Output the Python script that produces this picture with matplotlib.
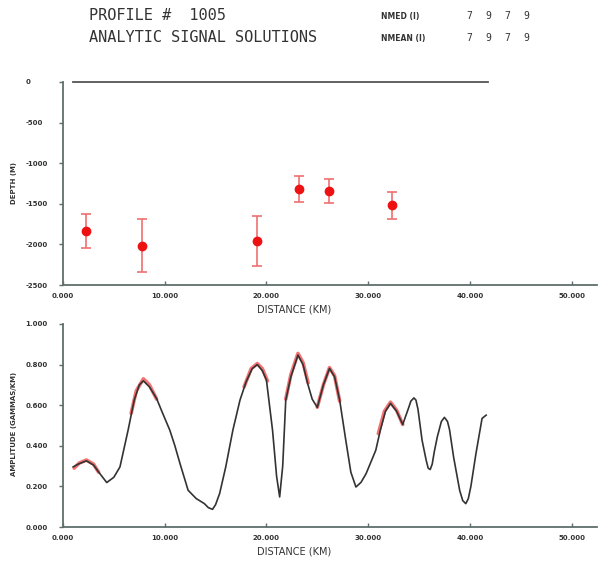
import numpy as np
import matplotlib
matplotlib.use('Agg')
import matplotlib.pyplot as plt
import matplotlib.ticker as ticker

# depth solutions (km, m, +/- m)
sol_dist = [2.25, 7.8, 19.1, 23.2, 26.2, 32.3]
sol_depth = [-1835, -2015, -1958, -1313, -1342, -1519]
sol_err = [213, 330, 305, 160, 142, 170]

# ground / profile line
ground_x = [1.0, 41.8]
ground_y = [0, 0]

# observed analytic signal amplitude
amp_x = [1.0, 1.5, 2.3, 3.0, 3.5, 4.3, 5.0, 5.6, 6.4, 7.0, 7.5, 7.9, 8.5, 9.2,
         9.8, 10.5, 11.0, 11.5, 12.3, 13.1, 13.9, 14.3, 14.7, 15.0, 15.4, 16.0,
         16.7, 17.4, 18.0, 18.6, 19.1, 19.6, 20.0, 20.6, 21.0, 21.3, 21.6, 21.9,
         22.4, 23.1, 23.6, 24.05, 24.5, 25.0, 25.6, 26.2, 26.7, 27.2, 27.8, 28.3,
         28.8, 29.3, 29.8, 30.75, 31.2, 31.7, 32.2, 32.8, 33.4, 34.0, 34.2, 34.5,
         34.7, 34.9, 35.3, 35.7, 35.9, 36.1, 36.3, 36.5, 36.8, 37.2, 37.5, 37.8,
         38.0, 38.4, 39.0, 39.3, 39.6, 39.85, 40.1, 40.6, 41.2, 41.6]
amp_y = [0.296, 0.31, 0.326, 0.305, 0.271, 0.219, 0.245, 0.296, 0.477, 0.625, 0.70, 0.72, 0.69, 0.633,
         0.56, 0.477, 0.40, 0.313, 0.181, 0.14, 0.115, 0.095, 0.087, 0.11, 0.165, 0.296,
         0.477, 0.625, 0.715, 0.78, 0.80, 0.77, 0.724, 0.477, 0.25, 0.148, 0.30, 0.625,
         0.74, 0.847, 0.80, 0.707, 0.63, 0.589, 0.70, 0.781, 0.74, 0.625, 0.428, 0.27,
         0.197, 0.22, 0.263, 0.378, 0.477, 0.57, 0.609, 0.57, 0.505, 0.59, 0.62, 0.636,
         0.625, 0.58, 0.428, 0.33, 0.29, 0.283, 0.31, 0.37, 0.444, 0.52, 0.54, 0.52,
         0.48, 0.345, 0.18, 0.13, 0.115, 0.14, 0.20, 0.362, 0.535, 0.551]

# fitted signal segments (red)
fit1_x = [1.1, 1.6, 2.3, 3.0, 3.5]
fit1_y = [0.29, 0.315, 0.33, 0.31, 0.27]
fit2_x = [6.7, 7.2, 7.9, 8.5, 9.2]
fit2_y = [0.56, 0.67, 0.73, 0.70, 0.63]
fit3_x = [17.8, 18.5, 19.1, 19.6, 20.1]
fit3_y = [0.69, 0.78, 0.805, 0.78, 0.72]
fit4_x = [21.9, 22.4, 23.1, 23.6, 24.1]
fit4_y = [0.63, 0.75, 0.855, 0.81, 0.71]
fit5_x = [25.0, 25.6, 26.2, 26.7, 27.2]
fit5_y = [0.59, 0.70, 0.785, 0.745, 0.62]
fit6_x = [31.0, 31.6, 32.2, 32.8, 33.4]
fit6_y = [0.46, 0.57, 0.615, 0.575, 0.505]
fits = [(fit1_x, fit1_y), (fit2_x, fit2_y), (fit3_x, fit3_y),
        (fit4_x, fit4_y), (fit5_x, fit5_y), (fit6_x, fit6_y)]

W, H = 599, 571
fig = plt.figure(figsize=(W / 100, H / 100), dpi=100)

def px(x0, y0, x1, y1):
    return [x0 / W, 1 - y1 / H, (x1 - x0) / W, (y1 - y0) / H]

axis_col = '#5f6f6c'
tick_font = dict(fontsize=5, fontweight='bold', color='#333333')

def style(ax):
    for s in ['top', 'right']:
        ax.spines[s].set_visible(False)
    for s in ['left', 'bottom']:
        ax.spines[s].set_color(axis_col)
        ax.spines[s].set_linewidth(1.3)
    ax.set_xlim(0, 52.5)
    ax.xaxis.set_major_locator(ticker.MultipleLocator(10))
    ax.xaxis.set_major_formatter(ticker.FormatStrFormatter('%.3f'))
    ax.tick_params(axis='x', direction='in', length=3, width=1, color=axis_col, pad=6)
    ax.tick_params(axis='y', direction='out', length=3, width=1, color=axis_col, pad=24)
    for lab in ax.get_xticklabels() + ax.get_yticklabels():
        lab.set(**tick_font)
    for lab in ax.get_yticklabels():
        lab.set_horizontalalignment('left')

# top panel: depth solutions
ax1 = fig.add_axes(px(63, 82, 597, 285))
ax1.plot(ground_x, ground_y, color='#555555', lw=1.3, clip_on=False)
ax1.errorbar(sol_dist, sol_depth, yerr=sol_err, fmt='o', color='#ee1111', ms=6,
             ecolor='#f07070', elinewidth=1.2, capsize=3.5, capthick=1.2)
ax1.set_ylim(-2500, 0)
ax1.yaxis.set_major_locator(ticker.MultipleLocator(500))
ax1.yaxis.set_major_formatter(ticker.FormatStrFormatter('%d'))
style(ax1)

# bottom panel: amplitude
ax2 = fig.add_axes(px(63, 324, 597, 527))
for fx, fy in fits:
    ax2.plot(fx, fy, color='#f05050', lw=2.6, alpha=0.8, solid_capstyle='round')
ax2.plot(amp_x, amp_y, color='#333333', lw=1.2)
ax2.set_ylim(0, 1)
ax2.yaxis.set_major_locator(ticker.MultipleLocator(0.2))
ax2.yaxis.set_major_formatter(ticker.FormatStrFormatter('%.3f'))
style(ax2)

def ftext(x, y, s, **kw):
    fig.text(x / W, 1 - y / H, s, **kw)

# header
ftext(89, 16, 'PROFILE #  1005', family='DejaVu Sans Mono', fontsize=11, va='center', color='#333333')
ftext(89, 38, 'ANALYTIC SIGNAL SOLUTIONS', family='DejaVu Sans Mono', fontsize=11, va='center', color='#333333')
ftext(381, 16, 'NMED (I)', fontsize=5.5, fontweight='bold', va='center', color='#333333')
ftext(381, 38, 'NMEAN (I)', fontsize=5.5, fontweight='bold', va='center', color='#333333')
for i, v in enumerate(['7', '9', '7', '9']):
    ftext(469 + i * 19, 16, v, family='DejaVu Sans Mono', fontsize=7, va='center', ha='center', color='#333333')
    ftext(469 + i * 19, 38, v, family='DejaVu Sans Mono', fontsize=7, va='center', ha='center', color='#333333')

# axis labels
ftext(294, 309, 'DISTANCE (KM)', fontsize=7, va='center', ha='center', color='#333333')
ftext(294, 552, 'DISTANCE (KM)', fontsize=7, va='center', ha='center', color='#333333')
ftext(14, 183, 'DEPTH (M)', fontsize=5, fontweight='bold', rotation=90, va='center', ha='center', color='#333333')
ftext(14, 424, 'AMPLITUDE (GAMMAS/KM)', fontsize=5, fontweight='bold', rotation=90, va='center', ha='center', color='#333333')

fig.savefig('out.png', dpi=100)
